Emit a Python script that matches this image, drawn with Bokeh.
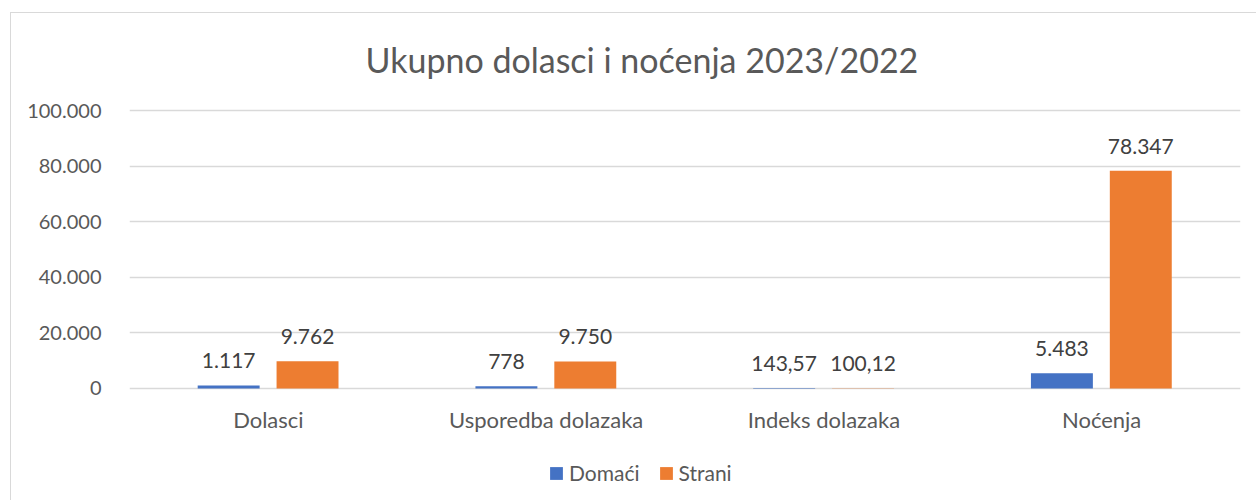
from bokeh.plotting import figure
from bokeh.models import (ColumnDataSource, FactorRange, Range1d, FixedTicker, LabelSet,
                          Legend, LegendItem)
from bokeh.transform import dodge
from bokeh.core.properties import value
from bokeh.embed import file_html
from bokeh.resources import INLINE

title_text = "Ukupno dolasci i noćenja 2023/2022"
categories = ["Dolasci", "Usporedba dolazaka", "Indeks dolazaka", "Noćenja"]
domaci = [1117, 778, 143.57, 5483]
strani = [9762, 9750, 100.12, 78347]
series_names = ["Domaći", "Strani"]
y_ticks = [0, 20000, 40000, 60000, 80000, 100000]
y_tick_labels = ["0", "20.000", "40.000", "60.000", "80.000", "100.000"]


def fmt(v):
    if float(v).is_integer():
        return f"{int(v):,}".replace(",", ".")
    return f"{v:.2f}".replace(".", ",")


src = ColumnDataSource(dict(
    cat=categories,
    base=[0] * len(categories),
    domaci=domaci,
    strani=strani,
    dlab=[fmt(v) for v in domaci],
    slab=[fmt(v) for v in strani],
))

FONT = "Lato"
BLUE = "#4472C4"
ORANGE = "#ED7D31"

# frame extends below the zero line so that category labels and the legend live inside it
p = figure(x_range=FactorRange(*categories, range_padding=0), y_range=Range1d(-40650, 102880),
           width=1246, height=488, output_backend="svg", toolbar_location=None,
           min_border_left=118, min_border_right=17, min_border_top=0, min_border_bottom=0,
           styles={"border-left": "1px solid #d9d9d9", "border-top": "1px solid #d9d9d9",
                   "margin-left": "10px", "margin-top": "12px"})

p.title.text = title_text
p.title.align = "left"
p.title.offset = 236
p.title.text_font = FONT
p.title.text_font_size = "34px"
p.title.text_font_style = "normal"
p.title.text_color = "#595959"
p.title.standoff = 46

p.outline_line_color = None
p.background_fill_color = "white"
p.border_fill_color = "white"

r1 = p.vbar(x=dodge("cat", -0.143, range=p.x_range), top="domaci", width=0.223,
            source=src, fill_color=BLUE, line_color=None)
r2 = p.vbar(x=dodge("cat", 0.141, range=p.x_range), top="strani", width=0.223,
            source=src, fill_color=ORANGE, line_color=None)

for col, lab, off in [("domaci", "dlab", -0.143), ("strani", "slab", 0.141)]:
    ls = LabelSet(x=dodge("cat", off, range=p.x_range), y=col, text=lab, source=src,
                  text_align="center", text_baseline="alphabetic", y_offset=17,
                  text_font=value(FONT), text_font_size="21px", text_color="#404040")
    p.add_layout(ls)

# category labels under the zero line
cat_labels = LabelSet(x="cat", y="base", text="cat", source=src, text_align="center",
                      text_baseline="middle", y_offset=-31, text_font=value(FONT),
                      text_font_size="22px", text_color="#595959")
p.add_layout(cat_labels)

p.ygrid.grid_line_color = "#d9d9d9"
p.ygrid.grid_line_width = 1.5
p.xgrid.grid_line_color = None
p.yaxis.ticker = FixedTicker(ticks=y_ticks)
p.yaxis.major_label_overrides = {t: l for t, l in zip(y_ticks, y_tick_labels)}
p.ygrid.ticker = FixedTicker(ticks=y_ticks)

ax = p.yaxis[0]
ax.axis_line_color = None
ax.major_tick_line_color = None
ax.minor_tick_line_color = None
ax.major_label_text_font = FONT
ax.major_label_text_color = "#595959"
ax.major_label_text_font_size = "20px"
ax.major_label_standoff = 22
p.xaxis.visible = False

legend = Legend(items=[LegendItem(label=series_names[0], renderers=[r1]),
                       LegendItem(label=series_names[1], renderers=[r2])],
                orientation="horizontal", location=(419, 16),
                glyph_width=16, glyph_height=16, label_standoff=5, spacing=18,
                padding=0, margin=0, border_line_color=None, background_fill_alpha=0,
                label_text_font=FONT, label_text_font_size="21px", label_text_color="#595959")
p.add_layout(legend, "center")

open("out.html", "w").write(file_html(p, INLINE))
